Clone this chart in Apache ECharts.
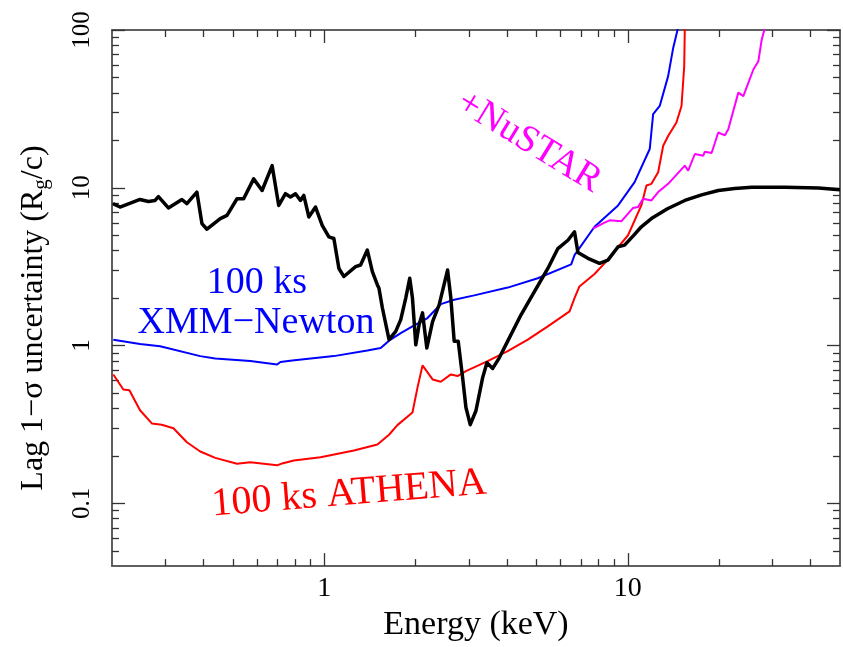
<!DOCTYPE html>
<html>
<head>
<meta charset="utf-8">
<script src="https://cdn.jsdelivr.net/npm/echarts@6/dist/echarts.min.js"></script>
<style>html,body{margin:0;padding:0;background:#fff}#c{width:843px;height:647px}</style>
</head>
<body>
<div id="c"></div>
<script>
// ---- Data (Energy in keV, lag 1-sigma uncertainty in Rg/c) ----
const blackEnergy = [0.2015,0.2125,0.2474,0.2636,0.2773,0.2844,0.3068,0.3398,0.3529,0.3807,0.3956,0.4109,0.4547,0.4784,0.5162,0.5428,0.5856,0.6243,0.6737,0.7084,0.7454,0.7743,0.8043,0.8354,0.8566,0.8899,0.9363,0.9851,1.036,1.076,1.118,1.161,1.269,1.318,1.387,1.441,1.497,1.515,1.555,1.635,1.720,1.787,1.856,1.913,1.953,2.003,2.054,2.108,2.178,2.275,2.391,2.549,2.613,2.680,2.763,2.857,2.930,3.027,3.161,3.326,3.436,3.589,3.773,4.022,4.450,4.925,5.453,5.884,6.35,6.675,6.85,7.39,8.07,8.60,9.29,9.76,10.51,11.08,11.96,13.51,15.41,17.50,19.86,22.49,25.59,32.96,42.46,49.96];
const blackLag = [7.93,7.55,8.43,8.19,8.31,8.80,7.45,8.43,7.93,9.39,5.93,5.46,6.38,6.69,8.52,8.52,11.39,9.61,13.82,7.73,9.17,8.74,9.17,8.31,8.94,6.53,7.55,5.78,4.88,4.77,3.08,2.74,3.16,3.24,4.03,2.94,2.42,2.31,1.73,1.09,1.23,1.46,2.00,2.67,2.00,1.01,1.36,1.61,0.966,1.42,1.81,3.01,2.00,1.066,1.066,0.626,0.405,0.315,0.386,0.626,0.778,0.716,0.836,1.066,1.567,2.20,3.08,4.12,4.65,5.26,3.89,3.57,3.32,3.48,4.23,4.33,5.05,5.66,6.38,7.36,8.31,9.02,9.61,9.91,10.09,10.09,9.95,9.71];

const xmmEnergy = [0.2020,0.2474,0.2881,0.3905,0.4377,0.571,0.6997,0.7174,0.7843,1.076,1.387,1.535,1.635,1.787,1.953,2.189,2.422,2.680,3.120,4.022,5.053,6.51,6.675,7.77,9.29,10.53,11.81,12.12,12.74,13.58,14.11,14.65];
const xmmLag = [1.09,1.024,0.991,0.857,0.828,0.797,0.759,0.786,0.803,0.857,0.929,0.966,1.074,1.20,1.324,1.494,1.83,1.95,2.08,2.33,2.67,3.27,3.74,5.66,7.73,10.85,17.6,29.3,33.0,51.0,77.0,104];

const athenaEnergy = [0.202,0.2180,0.2282,0.2474,0.2705,0.2918,0.3187,0.3529,0.3905,0.4377,0.5162,0.571,0.6997,0.7267,0.7941,0.9725,1.253,1.497,1.635,1.742,1.953,2.029,2.108,2.275,2.422,2.613,2.750,2.930,3.454,4.022,4.683,5.453,6.43,6.675,6.93,7.77,8.38,10.02,11.08,11.52,11.96,12.59,13.08,13.58,14.46,15.03,15.34,15.41];
const athenaLag = [0.656,0.527,0.521,0.389,0.321,0.315,0.299,0.244,0.213,0.194,0.178,0.182,0.174,0.179,0.187,0.196,0.216,0.236,0.272,0.313,0.376,0.541,0.748,0.610,0.590,0.656,0.641,0.689,0.797,0.921,1.09,1.324,1.646,2.00,2.37,2.84,3.32,5.00,7.73,10.34,10.59,12.55,18.47,21.3,25.9,33.0,58.9,104];

const nustarEnergy = [7.68,8.38,8.71,9.52,10.41,10.81,11.23,11.96,12.59,13.58,15.41,15.81,16.63,17.72,17.94,18.88,19.86,20.88,21.43,23.12,24.02,25.92,26.92,27.61,28.31];
const nustarLag = [5.51,6.02,6.22,6.13,7.45,7.55,8.52,8.31,9.39,10.59,13.82,12.85,16.37,15.97,16.92,16.60,22.4,21.5,23.5,40.1,38.1,56.2,63.4,86.8,104];

// ---- Axis ticks ----
const xMajorTicks = [1, 10];
const xMinorTicks = [0.3,0.4,0.5,0.6,0.7,0.8,0.9,2,3,4,5,6,7,8,9,20,30,40];
const yMajorTicks = [0.1, 1, 10, 100];
const yMinorTicks = [0.05,0.06,0.07,0.08,0.09,0.2,0.3,0.4,0.5,0.6,0.7,0.8,0.9,2,3,4,5,6,7,8,9,20,30,40,50,60,70,80,90];
const xRange = [0.2, 50];
const yRange = [0.04, 100];

const FONT = '"Liberation Serif", "Times New Roman", serif';
const pairs = (xs, ys) => xs.map((x, i) => [x, ys[i]]);
const fmt = v => String(+(+v).toPrecision(6));

function xAxisDef(pos, ticks, len, showLabels) {
  return {
    type: 'log', logBase: 10, min: xRange[0], max: xRange[1], position: pos,
    axisLine: { show: true, lineStyle: { color: '#555', width: 1.5 } },
    axisTick: { show: true, inside: true, length: len, customValues: ticks, lineStyle: { color: '#333', width: 1.3 } },
    axisLabel: showLabels ? { show: true, customValues: ticks, formatter: fmt, fontFamily: FONT, fontSize: 28, color: '#000', margin: 9 } : { show: false },
    splitLine: { show: false }, minorTick: { show: false }, minorSplitLine: { show: false },
    name: showLabels ? 'Energy (keV)' : '', nameLocation: 'middle', nameGap: 40,
    nameTextStyle: { fontFamily: FONT, fontSize: 34, color: '#000' }
  };
}
function yAxisDef(pos, ticks, len, showLabels) {
  return {
    type: 'log', logBase: 10, min: yRange[0], max: yRange[1], position: pos,
    axisLine: { show: true, lineStyle: { color: '#555', width: 1.5 } },
    axisTick: { show: true, inside: true, length: len, customValues: ticks, lineStyle: { color: '#333', width: 1.3 } },
    axisLabel: showLabels ? { show: true, customValues: ticks, formatter: fmt, rotate: 90, fontFamily: FONT, fontSize: 25, color: '#000', margin: 17 } : { show: false },
    splitLine: { show: false }, minorTick: { show: false }, minorSplitLine: { show: false },
    name: showLabels ? '{a|Lag 1\u2212\u03c3 uncertainty (R}{s|g}{a|/c)}' : '',
    nameLocation: 'middle', nameGap: 60, nameRotate: 90,
    nameTextStyle: {
      color: '#000', padding: [0, 40, 0, 0],
      rich: {
        a: { fontFamily: FONT, fontSize: 32, color: '#000', lineHeight: 36 },
        s: { fontFamily: FONT, fontSize: 21, color: '#000', lineHeight: 18, verticalAlign: 'bottom' }
      }
    }
  };
}

const chart = echarts.init(document.getElementById('c'), null, { renderer: 'canvas' });
chart.setOption({
  animation: false,
  backgroundColor: '#fff',
  grid: { left: 112, right: 3, top: 30, bottom: 76, containLabel: false },
  xAxis: [
    xAxisDef('bottom', xMajorTicks, 13, true),
    xAxisDef('bottom', xMinorTicks, 7, false),
    xAxisDef('top', xMajorTicks, 13, false),
    xAxisDef('top', xMinorTicks, 7, false)
  ],
  yAxis: [
    yAxisDef('left', yMajorTicks, 13, true),
    yAxisDef('left', yMinorTicks, 7, false),
    yAxisDef('right', yMajorTicks, 13, false),
    yAxisDef('right', yMinorTicks, 7, false)
  ],
  series: [
    { name: 'XMM', type: 'line', data: pairs(xmmEnergy, xmmLag), showSymbol: false, clip: true, lineStyle: { color: '#0000ff', width: 2 }, z: 2 },
    { name: 'ATHENA', type: 'line', data: pairs(athenaEnergy, athenaLag), showSymbol: false, clip: true, lineStyle: { color: '#ff0000', width: 2 }, z: 3 },
    { name: 'NuSTAR', type: 'line', data: pairs(nustarEnergy, nustarLag), showSymbol: false, clip: true, lineStyle: { color: '#ff00ff', width: 2 }, z: 4 },
    { name: 'Model', type: 'line', data: pairs(blackEnergy, blackLag), showSymbol: false, clip: true, lineStyle: { color: '#000000', width: 3.5, join: 'round' }, z: 5 }
  ],
  graphic: [
    { type: 'text', x: 257, y: 283, style: { text: '100 ks', fill: '#0000ff', font: '38px ' + FONT, align: 'center', verticalAlign: 'middle' } },
    { type: 'text', x: 256, y: 323, style: { text: 'XMM\u2212Newton', fill: '#0000ff', font: '38px ' + FONT, align: 'center', verticalAlign: 'middle' } },
    { type: 'text', x: 349, y: 494, rotation: 0.08, style: { text: '100 ks ATHENA', fill: '#ff0000', font: '40px ' + FONT, align: 'center', verticalAlign: 'middle' } },
    { type: 'text', x: 529, y: 142, rotation: -0.55, style: { text: '+NuSTAR', fill: '#ff00ff', font: '38px ' + FONT, align: 'center', verticalAlign: 'middle' } }
  ]
});
</script>
</body>
</html>
